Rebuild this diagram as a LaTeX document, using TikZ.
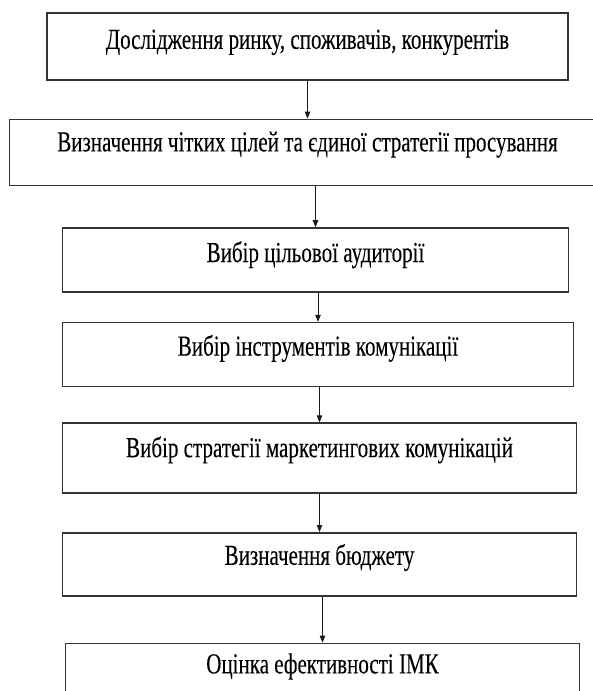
\documentclass[tikz,border=0pt]{standalone}
\usepackage{fontspec}
\setmainfont[FakeStretch=0.725, FakeBold=0.12]{Liberation Serif}
\usepackage{xcolor}
\definecolor{boxLine}{HTML}{333333}
\definecolor{arrDark}{HTML}{1A1A1A}
\usetikzlibrary{arrows.meta, positioning}

\begin{document}
\begin{tikzpicture}[
  x=1pt, y=-1pt,
  stage/.style={draw=boxLine, line width=1.6pt, inner xsep=0pt, inner ysep=0pt, anchor=north,
    text height=34pt, text depth=31pt, font=\fontsize{29}{32}\selectfont},
  arr/.style={-{Triangle[length=7pt, width=5.5pt]}, line width=0.8pt, draw=arrDark, fill=arrDark},
]
  \useasboundingbox (0,0) rectangle (593,691);

  \node[stage, minimum width=521pt, text height=36pt, text depth=31pt] (dosl) at (307.5,12) {Дослідження ринку, споживачів, конкурентів};
  \node[stage, minimum width=596pt, text height=32pt, text depth=34pt, below=38pt of dosl] (tsili) {Визначення чітких цілей та єдиної стратегії просування};
  \node[stage, minimum width=506pt, text depth=30pt, below=41pt of tsili, xshift=8pt] (audyt) {Вибір цільової аудиторії};
  \node[stage, minimum width=511pt, text height=33pt, below=29pt of audyt, xshift=2.5pt] (instr) {Вибір інструментів комунікації};
  \node[stage, minimum width=514pt, text depth=36pt, below=35pt of instr, xshift=1.5pt] (strat) {Вибір стратегії маркетингових комунікацій};
  \node[stage, minimum width=514pt, text height=32pt, below=38pt of strat] (budzh) {Визначення бюджету};
  \node[stage, minimum width=514pt, text height=30pt, text depth=40pt, below=46pt of budzh, xshift=3pt] (otsinka) {Оцінка ефективності ІМК};

  \draw[arr] (dosl.south -| tsili) -- (tsili.north);
  \draw[arr] (tsili.south -| audyt) -- (audyt.north);
  \draw[arr] (audyt.south -| instr) -- (instr.north);
  \draw[arr] (instr.south -| strat) -- (strat.north);
  \draw[arr] (strat.south -| budzh) -- (budzh.north);
  \draw[arr] (budzh.south -| otsinka) -- (otsinka.north);
\end{tikzpicture}
\end{document}
